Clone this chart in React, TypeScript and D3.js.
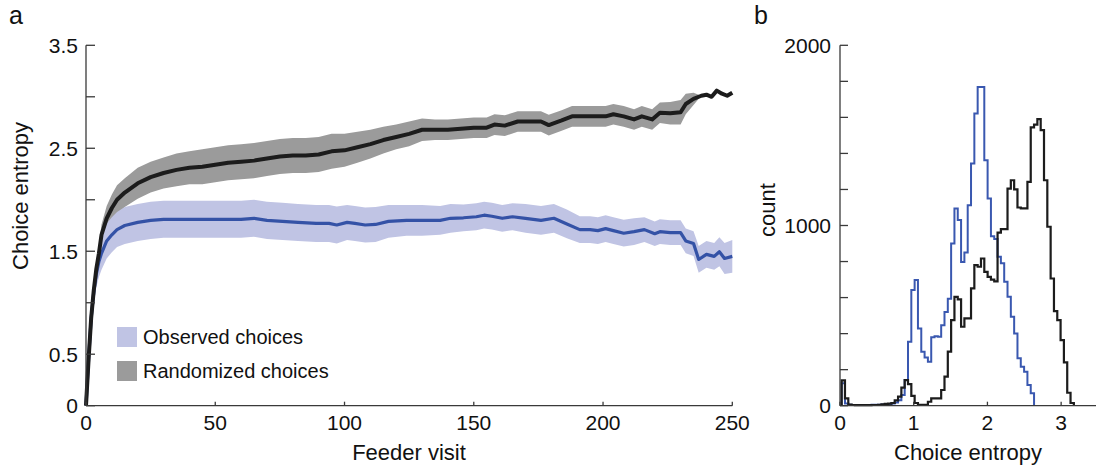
import React from "react";
import * as d3 from "d3";

// ---- Panel a: choice entropy vs feeder visit ----
const randX = [0,1,2,3,4,5,6,8,10,12,15,20,25,30,35,40,45,50,55,60,65,70,75,80,85,90,95,100,105,110,115,120,125,130,135,140,145,150,155,158,162,167,172,176,179,184,188,193,197,201,204,208,212,215,219,222,226,230,232,235,238,240,242,244,246,248,250];
const randMean = [0,0.45,0.85,1.12,1.33,1.48,1.66,1.82,1.92,2.0,2.07,2.16,2.22,2.26,2.29,2.31,2.32,2.34,2.36,2.37,2.38,2.40,2.42,2.43,2.43,2.44,2.47,2.48,2.51,2.54,2.58,2.61,2.64,2.68,2.68,2.68,2.69,2.70,2.70,2.73,2.72,2.76,2.76,2.76,2.725,2.77,2.81,2.81,2.81,2.81,2.83,2.81,2.78,2.81,2.78,2.845,2.84,2.85,2.93,2.98,3.01,3.02,3.0,3.06,3.03,3.01,3.04];
const randSE = [0,0.03,0.05,0.07,0.08,0.09,0.1,0.12,0.13,0.14,0.14,0.15,0.15,0.15,0.16,0.16,0.17,0.17,0.17,0.17,0.17,0.17,0.17,0.17,0.17,0.17,0.17,0.16,0.15,0.14,0.13,0.12,0.12,0.11,0.1,0.1,0.1,0.1,0.1,0.1,0.1,0.1,0.1,0.1,0.1,0.1,0.1,0.1,0.1,0.1,0.1,0.1,0.1,0.1,0.1,0.1,0.11,0.12,0.1,0.06,0,0,0,0,0,0,0];

const obsX = [0,1,2,3,4,5,6,8,10,12,15,20,25,30,40,50,60,65,70,76,82,89,94,97,101,104,108,112,117,124,130,137,141,146,151,154,157,161,165,170,176,181,186,191,195,198,201,204,208,212,216,220,222,226,230,232,235,237,240,243,245,247,250];
const obsMean = [0,0.45,0.85,1.1,1.28,1.4,1.48,1.6,1.66,1.71,1.75,1.78,1.8,1.81,1.81,1.81,1.81,1.82,1.80,1.79,1.78,1.77,1.77,1.755,1.78,1.77,1.755,1.76,1.79,1.80,1.80,1.80,1.82,1.825,1.835,1.85,1.84,1.82,1.835,1.82,1.80,1.82,1.765,1.71,1.71,1.70,1.72,1.70,1.675,1.69,1.71,1.67,1.69,1.68,1.68,1.60,1.575,1.42,1.47,1.45,1.495,1.43,1.45];
const obsSE = [0,0.04,0.08,0.11,0.13,0.15,0.16,0.17,0.17,0.17,0.18,0.18,0.18,0.18,0.18,0.18,0.18,0.18,0.18,0.18,0.18,0.18,0.18,0.18,0.17,0.17,0.17,0.17,0.16,0.15,0.15,0.14,0.14,0.13,0.13,0.13,0.13,0.13,0.13,0.14,0.14,0.14,0.14,0.13,0.13,0.13,0.13,0.13,0.13,0.13,0.12,0.12,0.12,0.12,0.12,0.12,0.12,0.13,0.13,0.13,0.14,0.15,0.16];

const leftXTicks = [0, 50, 100, 150, 200, 250];
const leftYTicks = [0, 0.5, 1, 1.5, 2, 2.5, 3, 3.5];
const leftYLabels = ["0", "0.5", "", "1.5", "", "2.5", "", "3.5"];
const legendLabels = ["Observed choices", "Randomized choices"];

// ---- Panel b: histogram of choice entropy ----
const histFirstCenter = 0.045;
const histBinWidth = 0.045;
const obsCounts = [124,12,5,4,4,4,4,4,4,5,5,5,6,8,10,12,18,30,60,142,355,642,697,429,300,268,244,380,385,383,447,520,594,900,1095,1030,798,850,1113,1344,1621,1769,1769,1362,1150,940,925,826,790,688,604,494,401,263,216,189,115,69];
const randCounts = [140,41,6,4,3,3,3,3,3,4,4,5,8,10,12,15,30,50,100,142,120,55,15,5,5,5,22,41,41,41,87,161,300,475,604,590,438,485,485,651,780,771,817,743,715,700,690,960,980,980,1205,1251,1200,1100,1095,1095,1242,1545,1560,1590,1529,1251,993,706,525,475,364,240,72,15];

const rightXTicks = [0, 1, 2, 3];
const rightYTicks = [0,200,400,600,800,1000,1200,1400,1600,1800,2000];
const rightYLabels = ["0","","","","","1000","","","","","2000"];

const FONT = "'Liberation Sans', Arial, Helvetica, sans-serif";
const AXIS = "#3a3a3a";
const BLUE_LINE = "#3452a6";
const BLUE_BAND = "#c0c4e4";
const GRAY_BAND = "#9b9b9b";
const BLACK = "#1c1c1c";
const HIST_BLUE = "#3a58b0";

function stairPath(counts: number[], x: d3.ScaleLinear<number, number>, y: d3.ScaleLinear<number, number>) {
  const pts: [number, number][] = [];
  const edge = (i: number) => histFirstCenter + (i - 0.5) * histBinWidth;
  pts.push([x(edge(0)), y(0)]);
  counts.forEach((c, i) => {
    pts.push([x(edge(i)), y(c)]);
    pts.push([x(edge(i + 1)), y(c)]);
  });
  pts.push([x(edge(counts.length)), y(0)]);
  return d3.line()(pts) as string;
}

export default function App() {
  const xL = d3.scaleLinear().domain([0, 250]).range([86, 732.3]);
  const yL = d3.scaleLinear().domain([0, 3.5]).range([405.7, 45.3]);
  const xR = d3.scaleLinear().domain([0, 3.5]).range([840, 1098]);
  const yR = d3.scaleLinear().domain([0, 2000]).range([405.7, 45.3]);

  const randRows = randX.map((v, i) => ({ x: v, m: randMean[i], s: randSE[i] }));
  const obsRows = obsX.map((v, i) => ({ x: v, m: obsMean[i], s: obsSE[i] }));

  const band = d3.area<{ x: number; m: number; s: number }>()
    .x(d => xL(d.x)).y0(d => yL(d.m - d.s)).y1(d => yL(d.m + d.s));
  const line = d3.line<{ x: number; m: number; s: number }>()
    .x(d => xL(d.x)).y(d => yL(d.m));

  const randBandRows = randRows.filter(d => d.x <= 238);

  const tickFont = 21;
  return (
    <svg width={1096} height={467} style={{ position: "absolute", left: 0, top: 0, background: "#fff" }}
      fontFamily={FONT}>
      <rect x={0} y={0} width={1096} height={467} fill="#fff" />
      {/* Panel letters */}
      <text x={9} y={23.5} fontSize={25} fill="#111">a</text>
      <text x={754} y={23.5} fontSize={25} fill="#111">b</text>

      {/* ---- Panel a ---- */}
      <path d={band(randBandRows) as string} fill={GRAY_BAND} />
      <path d={band(obsRows) as string} fill={BLUE_BAND} />
      <path d={line(obsRows) as string} fill="none" stroke={BLUE_LINE} strokeWidth={3.2} strokeLinejoin="round" />
      <path d={line(randRows) as string} fill="none" stroke={BLACK} strokeWidth={4} strokeLinejoin="round" />

      {/* axes a */}
      <line x1={xL(0)} x2={xL(0)} y1={yL(3.5)} y2={yL(0)} stroke={AXIS} strokeWidth={1.3} />
      <line x1={xL(0)} x2={xL(250)} y1={yL(0)} y2={yL(0)} stroke={AXIS} strokeWidth={1.3} />
      {leftYTicks.map((t, i) => (
        <g key={"ly" + t}>
          <line x1={xL(0)} x2={xL(0) + 9} y1={yL(t)} y2={yL(t)} stroke={AXIS} strokeWidth={1.3} />
          {leftYLabels[i] && (
            <text x={78} y={yL(t)} fontSize={tickFont} textAnchor="end" dominantBaseline="central" fill="#111">
              {leftYLabels[i]}
            </text>
          )}
        </g>
      ))}
      {leftXTicks.map(t => (
        <g key={"lx" + t}>
          <line x1={xL(t)} x2={xL(t)} y1={yL(0)} y2={yL(0) - 4} stroke={AXIS} strokeWidth={1.3} />
          <text x={xL(t)} y={430} fontSize={tickFont} textAnchor="middle" fill="#111">{t}</text>
        </g>
      ))}
      <text x={409} y={460} fontSize={22} textAnchor="middle" fill="#111">Feeder visit</text>
      <text transform="translate(28,196) rotate(-90)" fontSize={22} textAnchor="middle" fill="#111">Choice entropy</text>

      {/* legend */}
      <rect x={117} y={327} width={20} height={20} fill={BLUE_BAND} />
      <text x={143} y={337} fontSize={20} dominantBaseline="central" fill="#111">{legendLabels[0]}</text>
      <rect x={117} y={361} width={20} height={20} fill={GRAY_BAND} />
      <text x={143} y={371} fontSize={20} dominantBaseline="central" fill="#111">{legendLabels[1]}</text>

      {/* ---- Panel b ---- */}
      <path d={stairPath(obsCounts, xR, yR)} fill="none" stroke={HIST_BLUE} strokeWidth={2} strokeLinejoin="miter" />
      <path d={stairPath(randCounts, xR, yR)} fill="none" stroke={BLACK} strokeWidth={2.2} strokeLinejoin="miter" />

      <line x1={xR(0)} x2={xR(0)} y1={yR(2000)} y2={yR(0)} stroke={AXIS} strokeWidth={1.3} />
      <line x1={xR(0)} x2={xR(3.5)} y1={yR(0)} y2={yR(0)} stroke={AXIS} strokeWidth={1.3} />
      {rightYTicks.map((t, i) => (
        <g key={"ry" + t}>
          <line x1={xR(0)} x2={xR(0) + 8} y1={yR(t)} y2={yR(t)} stroke={AXIS} strokeWidth={1.3} />
          {rightYLabels[i] && (
            <text x={831} y={yR(t)} fontSize={tickFont} textAnchor="end" dominantBaseline="central" fill="#111">
              {rightYLabels[i]}
            </text>
          )}
        </g>
      ))}
      {rightXTicks.map(t => (
        <g key={"rx" + t}>
          <line x1={xR(t)} x2={xR(t)} y1={yR(0)} y2={yR(0) - 4} stroke={AXIS} strokeWidth={1.3} />
          <text x={xR(t)} y={430} fontSize={tickFont} textAnchor="middle" fill="#111">{t}</text>
        </g>
      ))}
      <text x={968} y={460} fontSize={22} textAnchor="middle" fill="#111">Choice entropy</text>
      <text transform="translate(775,210) rotate(-90)" fontSize={22} textAnchor="middle" fill="#111">count</text>
    </svg>
  );
}
